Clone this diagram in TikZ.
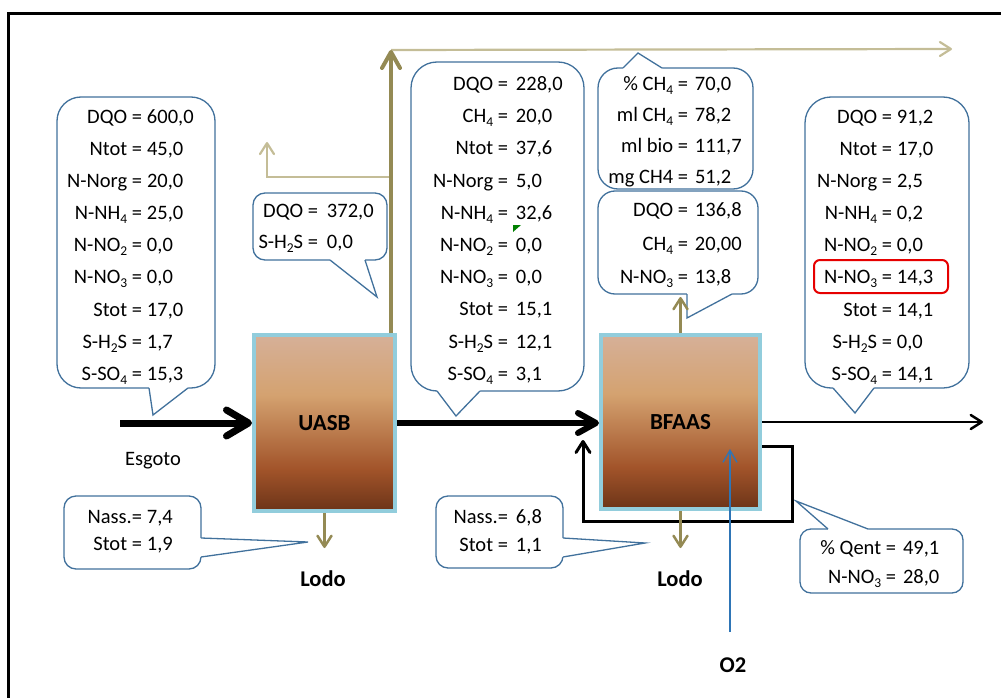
\documentclass[tikz,border=0pt]{standalone}
\usepackage{fontspec}
\setmainfont{Carlito}
\usepackage{array}
\usetikzlibrary{arrows.meta}

\definecolor{cblue}{RGB}{65,113,156}
\definecolor{khakidk}{RGB}{148,138,84}
\definecolor{khakilt}{RGB}{196,189,151}
\definecolor{rim}{RGB}{146,205,220}
\definecolor{o2blue}{RGB}{46,117,182}
\definecolor{hired}{RGB}{230,0,0}
\definecolor{rb1}{RGB}{214,176,152}
\definecolor{rb2}{RGB}{212,162,112}
\definecolor{rb3}{RGB}{162,84,42}
\definecolor{rb4}{RGB}{108,52,24}
\definecolor{notemark}{RGB}{0,128,0}
% the band 25bp..75bp is what fills the shaded path
\pgfdeclareverticalshading{reactor}{100bp}{color(0bp)=(rb4); color(25bp)=(rb4); color(37bp)=(rb3); color(58bp)=(rb2); color(75bp)=(rb1); color(100bp)=(rb1)}

% subscript in the running text
\newcommand\sbs[1]{\raisebox{-4pt}{\fontsize{13.5}{14}\selectfont #1}}
% rounded callout box from (x1,y1) to (x2,y2)
\newcommand\callbox[6]{%
  \node[cbox, rounded corners=#6pt, minimum width={#4-#2}, minimum height={#5-#3}]
    (#1) at ({(#2+#4)/2},{(#3+#5)/2}) {};}
% callout pointer: base (a), tip, base (b), inward offset (dx,dy)
\newcommand\tail[8]{%
  \fill[white] (#1,#2) -- (#3,#4) -- (#5,#6) -- (#5+#7,#6+#8) -- (#1+#7,#2+#8) -- cycle;
  \draw[cline] (#1,#2) -- (#3,#4) -- (#5,#6);}
% column of "label = value" rows aligned on the equals sign
\newcommand\vals[6]{%
  \node[txt, anchor=base west] (#1) at ({#2-100},#3)
    {\fontsize{20.5}{#5}\selectfont\begin{tabular}[t]{@{}>{\raggedleft\arraybackslash}p{100pt}@{\hspace{#4pt}}l@{}}#6\end{tabular}};}

\begin{document}
\begin{tikzpicture}[x=1pt,y=-1pt,
  cbox/.style={draw=cblue, line width=1.3pt, fill=white, inner sep=0pt, outer sep=0pt},
  cline/.style={draw=cblue, line width=1.3pt},
  txt/.style={inner sep=0pt, outer sep=0pt, font=\fontsize{20.5}{25}\selectfont},
  tag/.style={inner sep=0pt, font=\fontsize{22.5}{27}\selectfont\bfseries},
  vessel/.style={shading=reactor, draw=rim, line width=4pt, inner sep=0pt,
    font=\fontsize{23}{27}\selectfont\bfseries},
  bigtip/.style={-{Straight Barb[length=22pt,width=26pt,round]}},
  midtip/.style={-{Straight Barb[length=18pt,width=20pt,round]}},
  smalltip/.style={-{Straight Barb[length=11pt,width=14pt,round]}},
]
\useasboundingbox (0,0) rectangle (1001,698);

% frame
\draw[line width=3pt] (1001,14) -- (8,14) -- (8,698);

% callout boxes
\callbox{c1}{57}{97}{215}{388}{24}
\callbox{c2}{253}{193}{387}{260}{12}
\callbox{c3}{411}{62}{584}{391}{26}
\callbox{c4}{598}{68}{753}{189}{20}
\callbox{c5}{598}{191}{758}{294}{17}
\callbox{c6}{805}{97}{969}{388}{26}
\callbox{c7}{64}{496}{201}{569}{12}
\callbox{c8}{436}{496}{563}{568}{12}
\callbox{c9}{800}{529}{963}{593}{11}

% callout pointers
\tail{149}{388}{153}{415}{188}{388}{0}{-2}
\tail{330}{260}{377}{297}{365}{260}{0}{-2}
\tail{437}{391}{456}{416}{480}{391}{0}{-2}
\tail{623}{68}{638}{53}{662}{68}{0}{2}
\tail{687}{294}{687}{318}{732}{294}{0}{-2}
\tail{833}{388}{855}{413}{874}{388}{0}{-2}
\tail{201}{538}{308}{542}{201}{557}{-2}{0}
\tail{563}{538}{645}{543}{563}{557}{-2}{0}
\tail{828}{529}{796}{501}{868}{529}{0}{2}

% callout contents
\vals{t1}{142}{123.5}{5}{32.1}{DQO = & 600,0\\ Ntot = & 45,0\\ N-Norg = & 20,0\\ N-NH\sbs{4} = & 25,0\\ N-NO\sbs{2} = & 0,0\\ N-NO\sbs{3} = & 0,0\\ Stot = & 17,0\\ S-H\sbs{2}S = & 1,7\\ S-SO\sbs{4} = & 15,3}
\vals{t2}{318}{217.5}{9}{31}{DQO = & 372,0\\ S-H\sbs{2}S = & 0,0}
\vals{t3}{508}{90.5}{8}{32.2}{DQO = & 228,0\\ CH\sbs{4} = & 20,0\\ Ntot = & 37,6\\ N-Norg = & 5,0\\ N-NH\sbs{4} = & 32,6\\ N-NO\sbs{2} = & 0,0\\ N-NO\sbs{3} = & 0,0\\ Stot = & 15,1\\ S-H\sbs{2}S = & 12,1\\ S-SO\sbs{4} = & 3,1}
\vals{t4}{688}{90.5}{7}{31}{\% CH\sbs{4} = & 70,0\\ ml CH\sbs{4} = & 78,2\\ ml bio = & 111,7\\ mg CH4 = & 51,2}
\vals{t5}{688}{216.5}{7}{33.5}{DQO = & 136,8\\ CH\sbs{4} = & 20,00\\ N-NO\sbs{3} = & 13,8}
\vals{t6}{892}{123.5}{5}{32.1}{DQO = & 91,2\\ Ntot = & 17,0\\ N-Norg = & 2,5\\ N-NH\sbs{4} = & 0,2\\ N-NO\sbs{2} = & 0,0\\ N-NO\sbs{3} = & 14,3\\ Stot = & 14,1\\ S-H\sbs{2}S = & 0,0\\ S-SO\sbs{4} = & 14,1}
\vals{t7}{142}{523.5}{5}{27}{Nass.= & 7,4\\ Stot = & 1,9}
\vals{t8}{508}{523.5}{8}{28}{Nass.= & 6,8\\ Stot = & 1,1}
\vals{t9}{896}{554.5}{7}{29}{\% Qent = & 49,1\\ N-NO\sbs{3} = & 28,0}

% highlighted nitrate value
\node[draw=hired, line width=2pt, rounded corners=6pt, minimum width=134, minimum height=33, inner sep=0pt]
  (hl) at (881,276.5) {};
% cell note marker
\fill[notemark] (513,225) -- (521,225) -- (513,232) -- cycle;

% reactors
\node[vessel, minimum width=141, minimum height=176] (uasb) at (324.5,423) {UASB};
\node[vessel, minimum width=159, minimum height=174] (bfaas) at (680.5,422) {BFAAS};

% labels
\node[txt] (esgoto) at (153,461) {Esgoto};
\node[tag] (lodo1) at (323,579) {Lodo};
\node[tag] (lodo2) at (680,579) {Lodo};
\node[tag] (o2) at (733,665) {O2};

% free ends of the connectors
\coordinate (esg) at (120,423);
\coordinate (out) at (983,422);
\coordinate (r1) at (792,446);
\coordinate (r2) at (792,521);
\coordinate (r3) at (583,521);
\coordinate (r4) at (583,440);
\coordinate (g1) at (391,50);
\coordinate (g2) at (952,49);
\coordinate (b0) at (391,177);
\coordinate (b1) at (267,177);
\coordinate (b2) at (267,142);
\coordinate (g3) at (680.5,297);
\coordinate (l1) at (324.5,548);
\coordinate (l2) at (680.5,548);
\coordinate (o2s) at (730,632);
\coordinate (o2e) at (730,449);

% liquid line
\draw[line width=7pt, bigtip] (esg) -- (uasb.west);
\draw[line width=6pt, midtip] (uasb.east) -- (uasb.east -| bfaas.west);
\draw[line width=2.5pt, smalltip] (bfaas.east) -- (out);
\draw[line width=3pt, smalltip] (bfaas.east |- r1) -- (r1) -- (r2) -- (r3) -- (r4);

% biogas lines
\draw[khakilt, line width=2.2pt, smalltip] (g1) -- (g2);
\draw[khakilt, line width=2.2pt, smalltip] (b0) -- (b1) -- (b2);
\draw[khakidk, line width=4pt, -{Straight Barb[length=16pt,width=18pt,round]}] (uasb.north -| g1) -- (g1);
\draw[khakidk, line width=2.5pt, smalltip] (bfaas.north) -- (g3);

% sludge lines
\draw[khakidk, line width=2.5pt, smalltip] (uasb.south) -- (l1);
\draw[khakidk, line width=2.5pt, smalltip] (bfaas.south) -- (l2);

% air supply
\draw[o2blue, line width=1.3pt, -{Straight Barb[length=12pt,width=14pt]}] (o2s) -- (o2e);
\end{tikzpicture}
\end{document}
